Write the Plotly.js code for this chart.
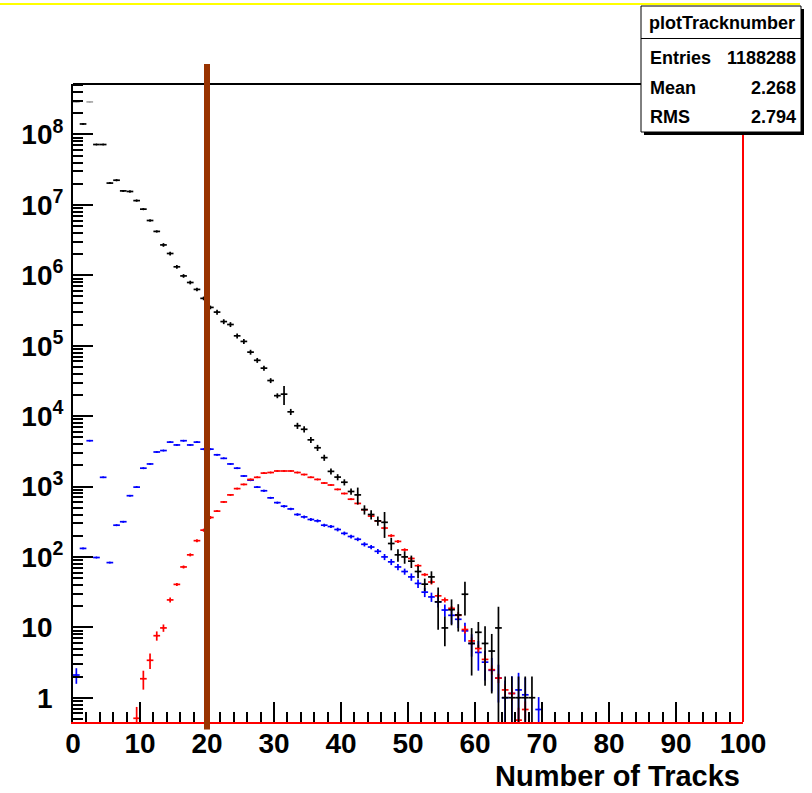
<!DOCTYPE html>
<html><head><meta charset="utf-8">
<script src="https://cdn.plot.ly/plotly-3.0.1.min.js"></script>
<style>html,body{margin:0;padding:0;background:#fff;} #plot{width:812px;height:793px;}</style>
</head><body><div id="plot"></div>
<script>
// ---------------- data (bin index = lower edge, bin width 1) ----------------
const blackBins = [0,1,3,4,5,6,7,8,9,10,11,12,13,14,15,16,17,18,19,20,21,22,23,24,25,26,27,28,29,30,31,32,33,34,35,36,37,38,39,40,41,42,43,44,45,46,47,48,49,50,51,52,53,54,55,56,57,58,59,60,61,62,63,64,65,66,67,68];
const blackVals = [5.2e8,1.41e8,7.2e7,7.2e7,2.04e7,2.24e7,1.58e7,1.55e7,1.15e7,8.7e6,6.0e6,4.2e6,2.7e6,2.04e6,1.32e6,9.8e5,7.9e5,6.3e5,4.7e5,3.5e5,3.0e5,2.2e5,2.0e5,1.38e5,1.15e5,8.1e4,6.2e4,4.8e4,3.2e4,1.95e4,2.05e4,1.15e4,7300,6500,4600,3550,2570,1640,1360,1150,850,760,470,400,325,310,155,107,100,87,62,41,52,23,9.8,17.8,15,29.5,5.9,8.5,5.9,4.6,9.8,1,1,1,1,1];
const blackRelErr = [0.01,0.01,0.01,0.01,0.03,0.03,0.03,0.03,0.03,0.03,0.03,0.03,0.06,0.06,0.06,0.06,0.06,0.06,0.06,0.06,0.08,0.08,0.08,0.08,0.08,0.08,0.08,0.08,0.08,0.08,0.3,0.1,0.1,0.1,0.1,0.1,0.1,0.1,0.1,0.1,0.1,0.27,0.15,0.15,0.15,0.4,0.2,0.2,0.2,0.2,0.2,0.2,0.2,0.6,0.45,0.4,0.42,0.5,0.65,0.4,0.75,0.75,1.0,1.0,1.0,1.0,1.0,1.0];

const grayBins = [0,2];
const grayVals = [2.9e8,2.9e8];

const blueBins = [0,1,2,3,4,5,6,7,8,9,10,11,12,13,14,15,16,17,18,19,20,21,22,23,24,25,26,27,28,29,30,31,32,33,34,35,36,37,38,39,40,41,42,43,44,45,46,47,48,49,50,51,52,53,54,55,56,57,58,59,60,61,62,63,64,65,66,67,69];
const blueVals = [2.1,132,4470,98,1350,83,282,316,740,980,1820,2090,3090,3240,4270,3890,4470,3890,4270,3390,3390,2820,2510,2090,1820,1410,1230,980,870,690,590,525,480,400,370,340,325,282,270,245,216,195,178,151,138,120,100,85,72,62,52,42,31.6,27,23,17.6,14.8,13,8.9,5.9,4.4,3.2,2.45,1.9,1.0,1.15,1.29,1.1,0.68];
const blueRelErr = [0.25,0.02,0.01,0.02,0.01,0.02,0.02,0.02,0.02,0.02,0.02,0.02,0.02,0.02,0.02,0.02,0.02,0.02,0.02,0.02,0.02,0.02,0.02,0.02,0.02,0.02,0.02,0.03,0.03,0.03,0.03,0.04,0.04,0.04,0.05,0.05,0.05,0.05,0.05,0.06,0.06,0.06,0.06,0.07,0.07,0.08,0.1,0.1,0.1,0.1,0.12,0.14,0.15,0.15,0.17,0.2,0.25,0.25,0.3,0.35,0.45,0.45,0.5,0.55,0.75,0.75,0.75,0.75,0.5];

const redBins = [9,10,11,12,13,14,15,16,17,18,19,20,21,22,23,24,25,26,27,28,29,30,31,32,33,34,35,36,37,38,39,40,41,42,43,44,45,46,47,48,49,50,51,52,53,54,55,56,57,58,59,60,61,62,63,64,65,66,67];
const redVals = [0.51,1.86,3.4,7.6,9.8,24.5,40.7,72,107,170,240,363,447,603,760,933,1070,1260,1350,1550,1580,1660,1660,1660,1580,1480,1350,1260,1120,1050,910,795,660,575,468,380,324,257,200,166,126,95,75,56,44,28,24.5,18.6,14.8,9.3,6.4,5.0,3.5,2.5,1.9,1.29,1.15,0.48,0.68];
const redRelErr = [0.45,0.3,0.25,0.15,0.12,0.08,0.05,0.05,0.05,0.05,0.05,0.05,0.02,0.02,0.02,0.02,0.02,0.02,0.02,0.02,0.02,0.02,0.02,0.02,0.02,0.02,0.02,0.02,0.02,0.02,0.02,0.02,0.02,0.02,0.02,0.02,0.02,0.05,0.05,0.05,0.05,0.05,0.05,0.05,0.08,0.08,0.08,0.08,0.12,0.12,0.12,0.12,0.15,0.15,0.15,0.2,0.2,0.5,0.3];

const decadeVals = [1,10,100,1e3,1e4,1e5,1e6,1e7,1e8];
const decadeText = ['1','10','10','10','10','10','10','10','10'];
const decadeExp  = ['','','2','3','4','5','6','7','8'];
const xTickVals = [0,10,20,30,40,50,60,70,80,90,100];
const statsTitle = 'plotTracknumber';
const statsNames = ['Entries','Mean','RMS'];
const statsValues = ['1188288','2.268','2.794'];
const xTitle = 'Number of Tracks';
const cutX = 20;

// ---------------- layout helpers ----------------
const W = 812, H = 793, L = 73, R = 69, T = 84, B = 71;
const PW = W - L - R, PH = H - T - B;
const fx = p => (p - L) / PW;
const fy = p => (H - B - p) / PH;
const FONT = 'Liberation Sans, Arial, Helvetica, sans-serif';

function histTrace(bins, vals, rel, color) {
  return {
    type: 'scatter', mode: 'markers',
    x: bins.map(b => b + 0.5), y: vals,
    marker: {size: 2, color: color},
    error_x: {type: 'constant', value: 0.5, width: 0, thickness: 1.7, color: color},
    error_y: {type: 'data', array: vals.map((v, i) => v * rel[i]), width: 0, thickness: 1.7, color: color},
    hoverinfo: 'skip', showlegend: false, cliponaxis: true
  };
}

const minorVals = [];
for (let k = -1; k <= 8; k++) for (let m = 2; m <= 9; m++) minorVals.push(m * Math.pow(10, k));

const yRange = [-0.345, 8.717];

const traces = [
  histTrace(grayBins, grayVals, [0.01, 0.01], '#a8a8a8'),
  histTrace(blueBins, blueVals, blueRelErr, '#0000ff'),
  histTrace(redBins, redVals, redRelErr, '#ff0000'),
  histTrace(blackBins, blackVals, blackRelErr, '#000000'),
  {type: 'scatter', mode: 'markers', x: [50], y: [10], yaxis: 'y2', marker: {opacity: 0}, hoverinfo: 'skip', showlegend: false}
];

const tickTextY = decadeText.map((t, i) => decadeExp[i]
  ? t + '<sup>' + decadeExp[i] + '</sup>'
  : t + '<sup><span style="color:rgba(0,0,0,0)">0</span></sup>');

const shapes = [
  {type: 'line', xref: 'paper', yref: 'paper', x0: 0, x1: 1, y0: 1, y1: 1, line: {color: '#000', width: 2}},
  {type: 'line', xref: 'paper', yref: 'paper', x0: 1, x1: 1, y0: 0, y1: 1, line: {color: '#ff0000', width: 2}},
  {type: 'line', xref: 'x', yref: 'paper', x0: cutX, x1: cutX, y0: fy(729.5), y1: fy(64), line: {color: '#993300', width: 6}},
  {type: 'line', xref: 'paper', yref: 'paper', x0: fx(0), x1: fx(800), y0: fy(4), y1: fy(4), line: {color: '#ffff00', width: 2}},
  {type: 'rect', xref: 'paper', yref: 'paper', x0: fx(644), x1: fx(804), y0: fy(135), y1: fy(9), fillcolor: '#000', line: {width: 0}},
  {type: 'rect', xref: 'paper', yref: 'paper', x0: fx(641), x1: fx(801), y0: fy(132), y1: fy(6), fillcolor: '#fff', line: {color: '#000', width: 1}},
  {type: 'line', xref: 'paper', yref: 'paper', x0: fx(641), x1: fx(801), y0: fy(38.5), y1: fy(38.5), line: {color: '#000', width: 1}}
];

const statFont = {family: FONT, size: 18, color: '#000', weight: 'bold'};
const annotations = [
  {xref: 'paper', yref: 'paper', x: fx(722), y: fy(22.5), xanchor: 'center', yanchor: 'middle', text: statsTitle, showarrow: false, font: statFont}
];
const rowY = [58, 88, 117];
statsNames.forEach((n, i) => {
  annotations.push({xref: 'paper', yref: 'paper', x: fx(648), y: fy(rowY[i]), xanchor: 'left', yanchor: 'middle', text: n, showarrow: false, font: statFont});
  annotations.push({xref: 'paper', yref: 'paper', x: fx(798), y: fy(rowY[i]), xanchor: 'right', yanchor: 'middle', text: statsValues[i], showarrow: false, font: statFont});
});
annotations.push({xref: 'paper', yref: 'paper', x: fx(742), y: fy(776), xanchor: 'right', yanchor: 'middle', text: xTitle, showarrow: false,
  font: {family: FONT, size: 29, color: '#000', weight: 'bold'}});

const layout = {
  width: W, height: H,
  margin: {l: L, r: R, t: T, b: B, pad: 0},
  paper_bgcolor: '#fff', plot_bgcolor: '#fff',
  font: {family: FONT, color: '#000'},
  showlegend: false,
  xaxis: {
    range: [0, 100], tickvals: xTickVals, ticktext: xTickVals.map(String),
    ticks: 'inside', ticklen: 20, tickwidth: 2, tickcolor: '#000',
    minor: {dtick: 2, ticks: 'inside', ticklen: 10, tickwidth: 2, tickcolor: '#000', showgrid: false},
    showline: true, linecolor: '#ff0000', linewidth: 2,
    showgrid: false, zeroline: false,
    tickfont: {family: FONT, size: 28, weight: 'bold', color: '#000'},
    ticklabelstandoff: -5
  },
  yaxis: {
    type: 'log', range: yRange, tickvals: decadeVals, ticktext: tickTextY,
    ticks: 'inside', ticklen: 20, tickwidth: 2, tickcolor: '#000',
    showline: true, linecolor: '#000', linewidth: 2,
    showgrid: false, zeroline: false,
    tickfont: {family: FONT, size: 28, weight: 'bold', color: '#000'},
    ticklabelstandoff: 2
  },
  yaxis2: {
    type: 'log', range: yRange, overlaying: 'y', side: 'left',
    tickvals: minorVals, ticks: 'inside', ticklen: 10, tickwidth: 2, tickcolor: '#000',
    showticklabels: false, showgrid: false, zeroline: false, showline: false
  },
  shapes: shapes,
  annotations: annotations
};

Plotly.newPlot('plot', traces, layout, {staticPlot: true, displayModeBar: false});
</script>
</body></html>
